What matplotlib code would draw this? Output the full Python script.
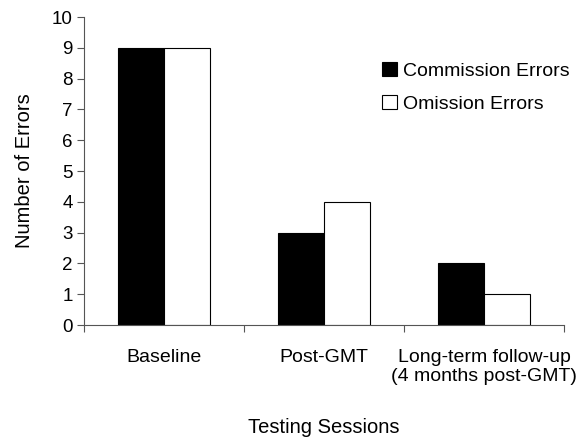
import matplotlib
matplotlib.use("Agg")
import matplotlib.pyplot as plt
import numpy as np

sessions = ["Baseline", "Post-GMT", "Long-term follow-up\n(4 months post-GMT)"]
commission = [9, 3, 2]
omission = [9, 4, 1]
yticks = list(range(0, 11))

plt.rcParams['font.family'] = ['Liberation Sans', 'DejaVu Sans']

fig = plt.figure(figsize=(5.85, 4.4), dpi=100)
ax = fig.add_axes([84 / 585, 1 - 325 / 440, 480 / 585, 308 / 440])

x = np.arange(len(sessions)) + 0.5
w = 0.2875
ax.bar(x - w / 2, commission, w, color='black', edgecolor='black', linewidth=0.8,
       label='Commission Errors')
ax.bar(x + w / 2, omission, w, color='white', edgecolor='black', linewidth=0.8,
       label='Omission Errors')

ax.set_xlim(0, len(sessions))
ax.set_ylim(0, 10)
ax.set_yticks(yticks)
ax.set_xticks(np.arange(len(sessions) + 1))
ax.set_xticklabels([])
ax.set_xticks(x, minor=True)
ax.set_xticklabels(sessions, minor=True, fontsize=14, linespacing=1.2)
ax.tick_params(axis='x', which='minor', length=0, pad=17)
ax.tick_params(axis='x', which='major', length=5, width=0.8, color='#555555')
ax.tick_params(axis='y', length=5, width=0.8, color='#555555', labelsize=13.5, pad=3)

for s in ['top', 'right']:
    ax.spines[s].set_visible(False)
for s in ['left', 'bottom']:
    ax.spines[s].set_color('#555555')
    ax.spines[s].set_linewidth(0.8)

ax.set_ylabel("Number of Errors", fontsize=14.5)
ax.yaxis.set_label_coords(-0.105, 0.5)
ax.set_xlabel("Testing Sessions", fontsize=14.5)
ax.xaxis.set_label_coords(0.5, -0.302)

ax.legend(loc='upper left', bbox_to_anchor=(0.585, 0.91), frameon=False, fontsize=14,
          handlelength=0.75, handleheight=0.75, handletextpad=0.3, labelspacing=0.75)

fig.savefig("out.png", dpi=100)
